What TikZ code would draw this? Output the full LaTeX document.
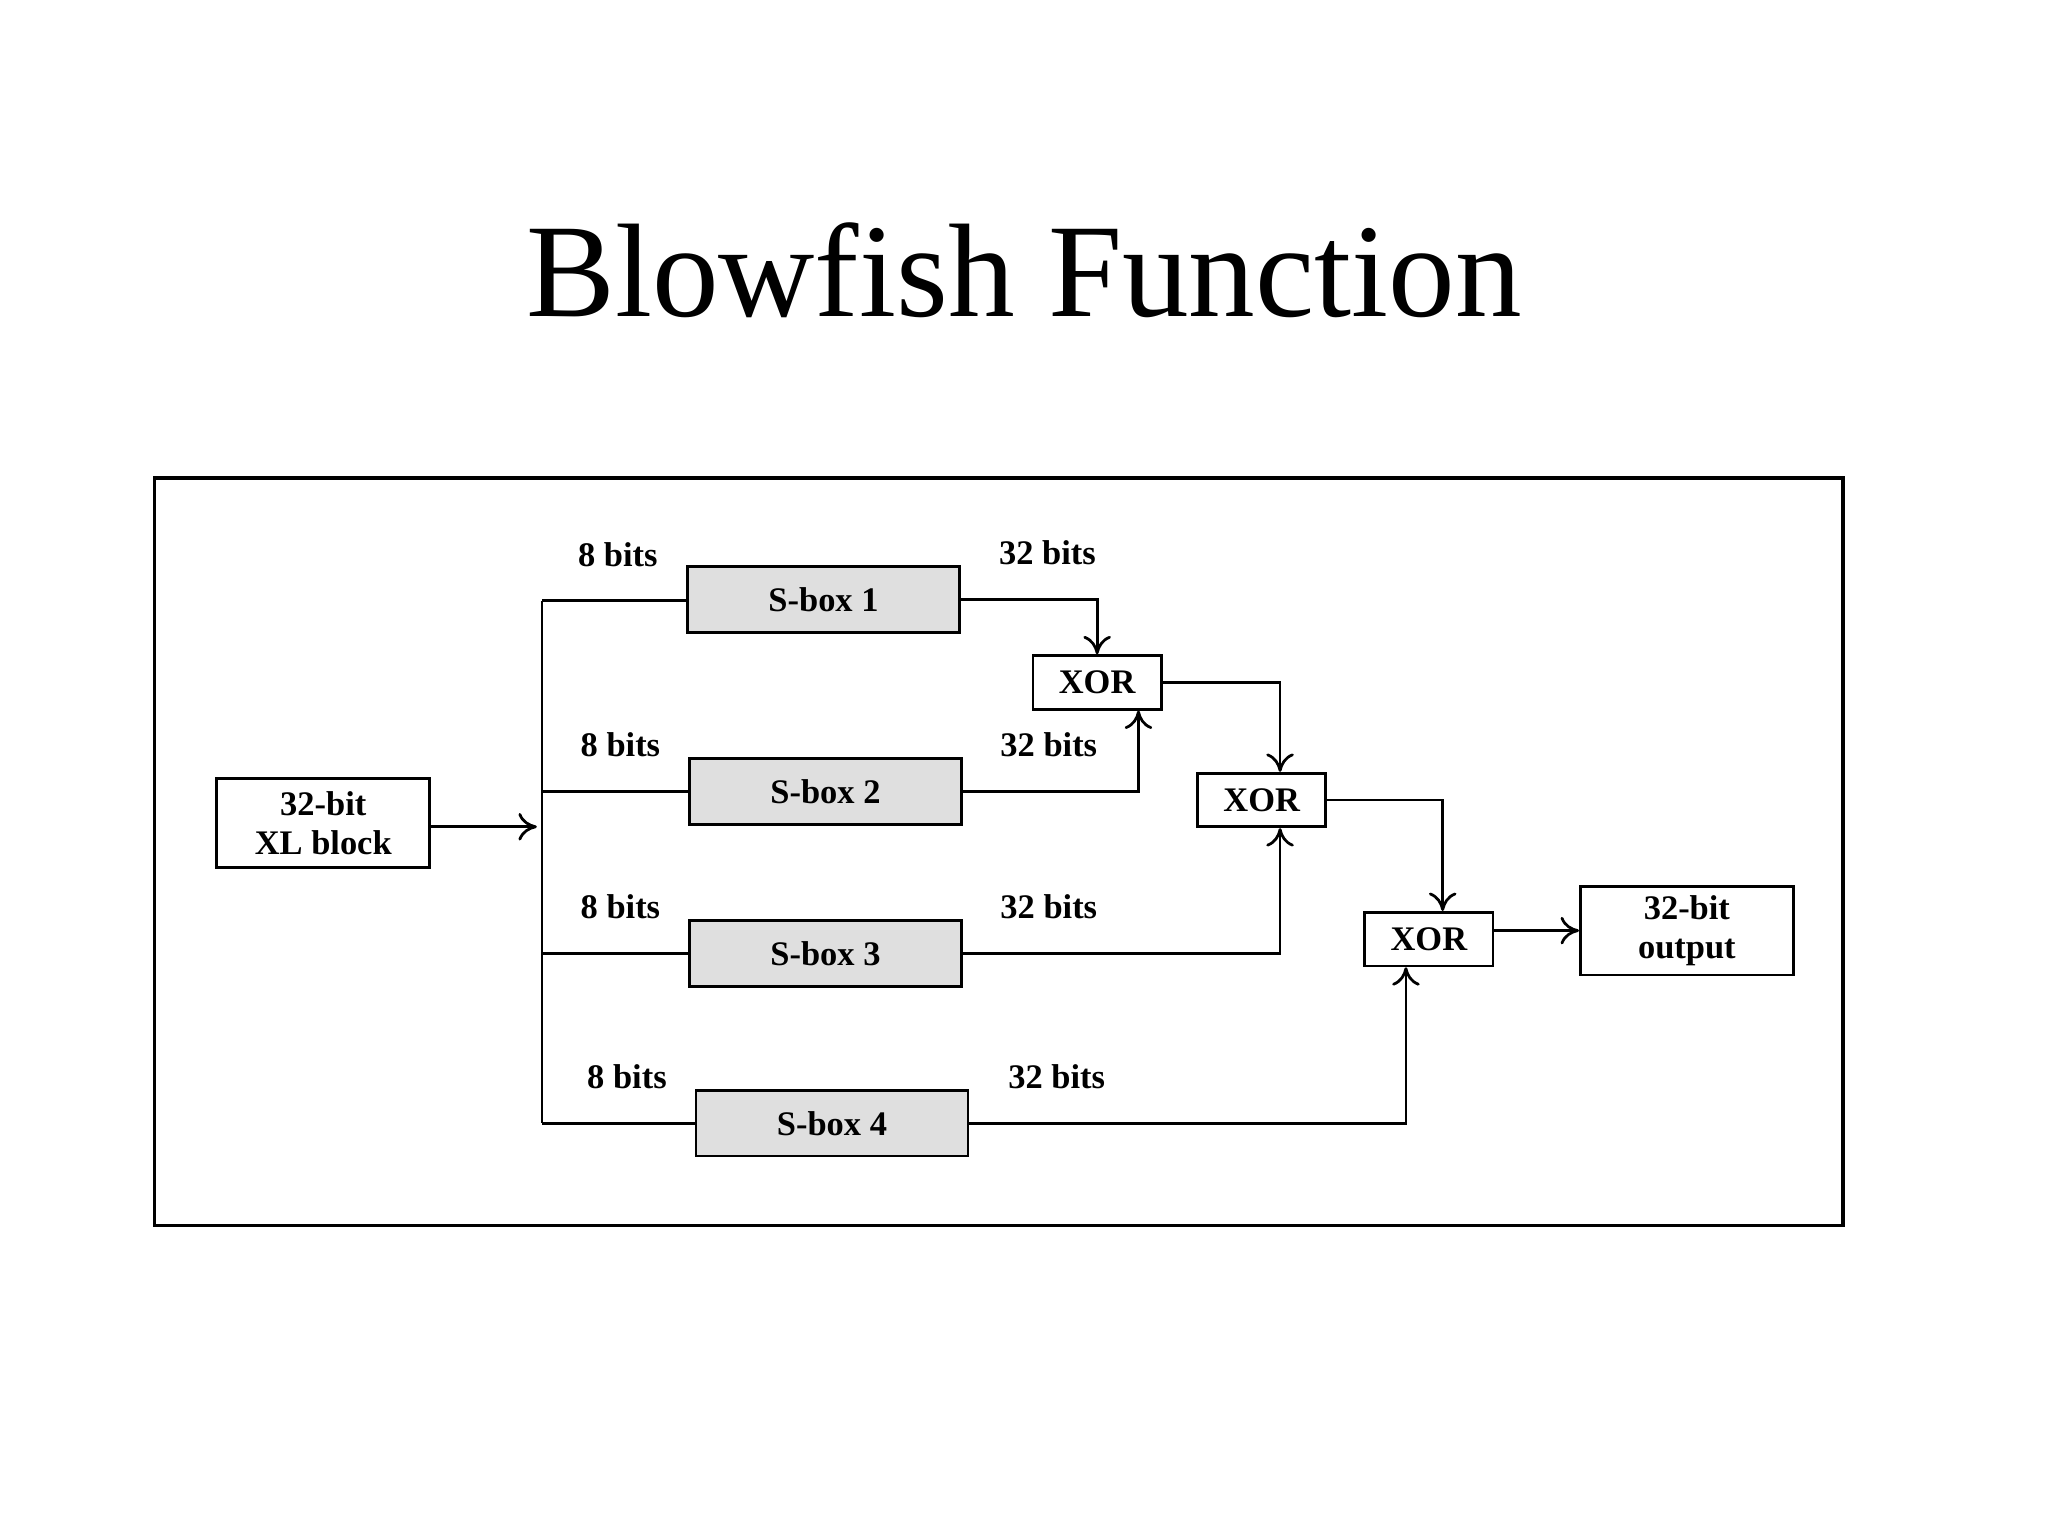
\documentclass[tikz,border=0pt]{standalone}
\usepackage{fontspec}
\setmainfont{Liberation Serif}
\usetikzlibrary{arrows.meta}
\begin{document}
\begin{tikzpicture}[x=0.01cm,y=-0.01cm,
  box/.style={draw,line width=0.6pt,inner sep=0pt,font=\fontsize{7.5}{8.5}\selectfont\bfseries,align=center},
  sbox/.style={box,fill=gray!25,minimum width=208\pgflinewidth*0+2.08cm,minimum height=0.5cm},
  xor/.style={box,minimum width=0.98cm,minimum height=0.41cm},
  io/.style={box,minimum width=1.63cm,minimum height=0.68cm},
  lbl/.style={font=\fontsize{7.5}{8.5}\selectfont\bfseries},
  ln/.style={line width=0.6pt},
  ar/.style={ln,-{To[length=4pt,width=6pt]}}]
\useasboundingbox (0,0) rectangle (1568,1176);
\node[font=\fontsize{29}{32}\selectfont] (title) at (784,207) {Blowfish Function};
\draw[line width=0.7pt] (118,366) rectangle (1411,938);
\node[io] (xl) at (247.5,630) {32-bit\\XL block};
\node[sbox] (s1) at (630.5,459) {S-box 1};
\node[sbox] (s2) at (632,606) {S-box 2};
\node[sbox] (s3) at (632,730) {S-box 3};
\node[sbox] (s4) at (637,860) {S-box 4};
\node[xor] (x1) at (840,522.5) {XOR};
\node[xor] (x2) at (966,612.5) {XOR};
\node[xor] (x3) at (1094,719) {XOR};
\node[io] (out) at (1291.5,712.5) {32-bit\\output};
\coordinate (bt) at (415,460);
\coordinate (bb) at (415,860);
\coordinate (bm) at (411,633);
\draw[ar] (xl.east |- bm) -- (bm);
\draw[ln] (bt) -- (bb);
\draw[ln] (bt) -- (s1.west |- bt);
\draw[ln] (415,606) -- (s2.west);
\draw[ln] (415,730) -- (s3.west);
\draw[ln] (bb) -- (s4.west);
\draw[ar] (s1.east) -| (x1.north);
\draw[ar] (s2.east) -| ([xshift=9]x1.south);
\draw[ar] (x1.east) -| ([xshift=4]x2.north);
\draw[ar] (s3.east) -| ([xshift=4]x2.south);
\draw[ar] (x2.east) -| ([xshift=3]x3.north);
\draw[ar] (s4.east) -| ([xshift=-5]x3.south);
\draw[ar] (x3.east |- out.west) -- (out.west);
\node[lbl] (l1a) at (473,425) {8 bits};
\node[lbl] (l1b) at (802,423) {32 bits};
\node[lbl] (l2a) at (475,570) {8 bits};
\node[lbl] (l2b) at (803,570) {32 bits};
\node[lbl] (l3a) at (475,694) {8 bits};
\node[lbl] (l3b) at (803,694) {32 bits};
\node[lbl] (l4a) at (480,824) {8 bits};
\node[lbl] (l4b) at (809,824) {32 bits};
\end{tikzpicture}
\end{document}
